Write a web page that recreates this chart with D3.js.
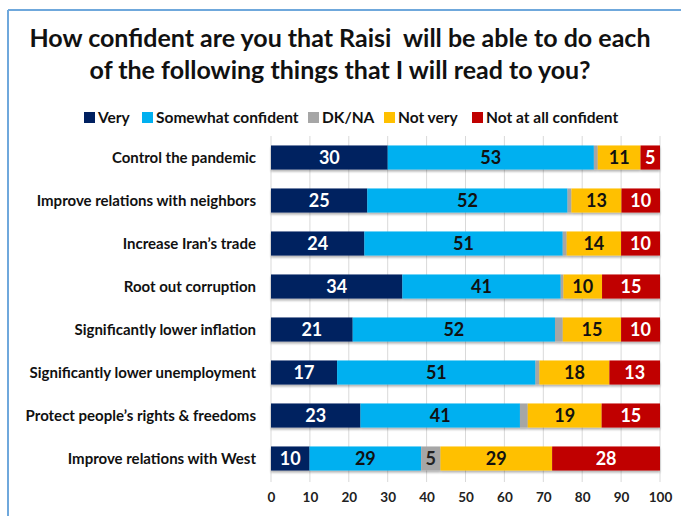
<!DOCTYPE html>
<html>
<head>
<meta charset="utf-8">
<script src="https://cdn.jsdelivr.net/npm/d3@7"></script>
<style>
  html, body { margin: 0; padding: 0; background: #fff; }
  svg { display: block; font-family: Lato, "Open Sans", sans-serif; }
</style>
</head>
<body>
<svg id="chart" width="681" height="516"></svg>
<script>
// Survey items, top to bottom
const categories = [
  "Control the pandemic",
  "Improve relations with neighbors",
  "Increase Iran\u2019s trade",
  "Root out corruption",
  "Significantly lower inflation",
  "Significantly lower unemployment",
  "Protect people\u2019s rights & freedoms",
  "Improve relations with West"
];

const seriesNames = ["Very", "Somewhat confident", "DK/NA", "Not very", "Not at all confident"];

// Percentages per series, in category order
const very       = [30, 25, 24, 34, 21, 17, 23, 10];
const somewhat   = [53, 52, 51, 41, 52, 51, 41, 29];
const dkna       = [1, 1, 1, 0.7, 2, 1, 2, 5];
const notVery    = [11, 13, 14, 10, 15, 18, 19, 29];
const notAtAll   = [5, 10, 10, 15, 10, 13, 15, 28];

// Only DK/NA in the last row carries a printed label
const dknaLabeled = [false, false, false, false, false, false, false, true];

const xTicks = [0, 10, 20, 30, 40, 50, 60, 70, 80, 90, 100];

const colors = ["#002060", "#00B0F0", "#A6A6A6", "#FFC000", "#C00000"];
const labelColors = ["#ffffff", "#111111", "#222222", "#111111", "#ffffff"];

const seriesValues = [very, somewhat, dkna, notVery, notAtAll];

const svg = d3.select("#chart");

// Frame lines along the top and left edge
svg.append("line").attr("x1", 8).attr("x2", 681).attr("y1", 10).attr("y2", 10)
  .attr("stroke", "#6fa8dc").attr("stroke-width", 2);
svg.append("line").attr("x1", 8).attr("x2", 8).attr("y1", 10).attr("y2", 516)
  .attr("stroke", "#6fa8dc").attr("stroke-width", 2);

// Title
const title = svg.append("text")
  .attr("text-anchor", "middle")
  .attr("font-weight", 700)
  .attr("font-size", 25)
  .attr("fill", "#111");
title.append("tspan").attr("x", 340).attr("y", 47).text("How confident are you that Raisi\u00a0 will be able to do each");
title.append("tspan").attr("x", 340).attr("y", 79).text("of the following things that I will read to you?");

// Scales
const x = d3.scaleLinear().domain([0, 100]).range([271, 660]);
const y = d3.scaleBand().domain(categories).range([136, 480]).paddingInner(0.44).paddingOuter(0.22);

// Shadow for the bars
const defs = svg.append("defs");
const f = defs.append("filter").attr("id", "shadow").attr("x", "-5%").attr("y", "-20%").attr("width", "110%").attr("height", "160%");
f.append("feDropShadow").attr("dx", 0).attr("dy", 2).attr("stdDeviation", 1).attr("flood-color", "#000").attr("flood-opacity", 0.3);

// Vertical gridlines
svg.append("g").selectAll("line").data(xTicks).join("line")
  .attr("x1", d => x(d)).attr("x2", d => x(d))
  .attr("y1", 136).attr("y2", 482)
  .attr("stroke", "#d9d9d9").attr("stroke-width", 1);

// Tick labels along the bottom
const xAxis = d3.axisBottom(x).tickValues(xTicks).tickSize(0).tickPadding(0);
const axisG = svg.append("g").attr("transform", "translate(0,492)").call(xAxis);
axisG.select(".domain").remove();
axisG.selectAll("text")
  .attr("font-family", "Lato, sans-serif")
  .attr("font-size", 13.5)
  .attr("font-weight", 700)
  .attr("fill", "#222")
  .attr("dy", "0.71em");

// Stack the series as shares of each row's total (100% stacked bars)
const rows = categories.map((c, i) => {
  const r = { category: c };
  seriesNames.forEach((s, k) => { r[s] = seriesValues[k][i]; });
  return r;
});
const stacked = d3.stack().keys(seriesNames).offset(d3.stackOffsetExpand)(rows);
const px = v => x(v * 100);

const bars = svg.append("g");
bars.selectAll("g.row").data(categories).join("g")
  .attr("filter", "url(#shadow)")
  .each(function(c, i) {
    d3.select(this).selectAll("rect").data(stacked.map((s, k) => ({ k, seg: s[i] }))).join("rect")
      .attr("x", d => px(d.seg[0]))
      .attr("width", d => px(d.seg[1]) - px(d.seg[0]))
      .attr("y", y(c))
      .attr("height", y.bandwidth())
      .attr("fill", d => colors[d.k]);
  });

// Value labels
const labels = svg.append("g").attr("text-anchor", "middle")
  .attr("font-weight", 700).attr("font-size", 18);
stacked.forEach((s, k) => {
  s.forEach((seg, i) => {
    if (k === 2 && !dknaLabeled[i]) return;
    labels.append("text")
      .attr("x", px((seg[0] + seg[1]) / 2))
      .attr("y", y(categories[i]) + y.bandwidth() / 2)
      .attr("dy", "0.36em")
      .attr("fill", labelColors[k])
      .text(seriesValues[k][i]);
  });
});

// Category labels
svg.append("g").selectAll("text").data(categories).join("text")
  .attr("x", 256)
  .attr("y", d => y(d) + y.bandwidth() / 2)
  .attr("dy", "0.35em")
  .attr("text-anchor", "end")
  .attr("font-weight", 700)
  .attr("font-size", 15)
  .attr("fill", "#111")
  .text(d => d);

// Legend
const legendX = [84, 142, 308, 384, 472];
const legend = svg.append("g");
seriesNames.forEach((s, k) => {
  legend.append("rect").attr("x", legendX[k]).attr("y", 112).attr("width", 11).attr("height", 11)
    .attr("fill", colors[k]);
  legend.append("text").attr("x", legendX[k] + 14).attr("y", 117.5).attr("dy", "0.36em")
    .attr("font-weight", 700).attr("font-size", 15.5).attr("fill", "#111").text(s);
});
</script>
</body>
</html>
